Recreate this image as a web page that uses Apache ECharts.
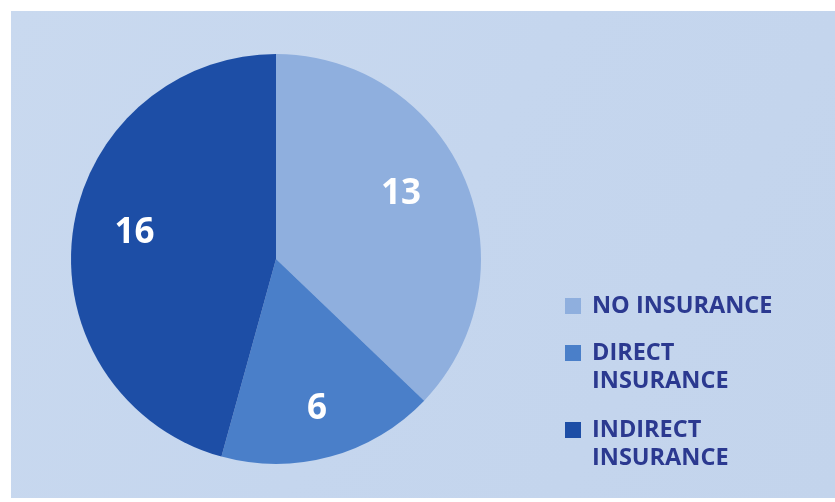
<!DOCTYPE html>
<html>
<head>
<meta charset="utf-8">
<style>
  html, body { margin: 0; padding: 0; background: #ffffff; }
  #chart { width: 835px; height: 502px; }
</style>
<script src="https://cdn.jsdelivr.net/npm/echarts@6/dist/echarts.min.js"></script>
</head>
<body>
<div id="chart"></div>
<script>
// Insurance coverage breakdown
const categories = ['NO INSURANCE', 'DIRECT INSURANCE', 'INDIRECT INSURANCE'];
const counts = [13, 6, 16];
const sliceColors = ['#8fafde', '#4a7fc9', '#1d4ea6'];
// label nudges outward from the default inside position
const labelOffsets = [[28, -24], [13, 48], [-37, -12]];
// legend rows: vertical centre of each marker
const legendTops = [306, 353, 430];

const chart = echarts.init(document.getElementById('chart'), null, { renderer: 'canvas' });

const legendFont = {
  fontFamily: 'Open Sans',
  fontWeight: 'bold',
  fontSize: 23.5,
  color: '#2b3990',
  lineHeight: 28,
  padding: [0, 0, 0, 6]
};

// two-word names wrap onto a second line; a leading blank line keeps
// the first line level with the marker
function wrapName(n) {
  return n === 'NO INSURANCE' ? n : ' \n' + n.replace(' ', '\n');
}

const legends = categories.map((name, i) => {
  const twoLine = name !== 'NO INSURANCE';
  return {
    left: 565,
    top: twoLine ? legendTops[i] - 42 : legendTops[i] - 14,
    orient: 'vertical',
    icon: 'rect',
    itemWidth: 16,
    itemHeight: 16,
    itemGap: 0,
    padding: 0,
    selectedMode: false,
    data: [name],
    formatter: wrapName,
    textStyle: legendFont
  };
});

chart.setOption({
  animation: false,
  color: sliceColors,
  graphic: [{
    type: 'rect',
    z: -10,
    silent: true,
    shape: { x: 11, y: 11, width: 824, height: 487 },
    style: {
      fill: {
        type: 'linear', x: 0, y: 0, x2: 1, y2: 1,
        colorStops: [
          { offset: 0, color: '#c9d9ef' },
          { offset: 0.5, color: '#c5d6ee' },
          { offset: 1, color: '#c3d4ec' }
        ]
      }
    }
  }],
  legend: legends,
  series: [{
    type: 'pie',
    center: [276, 259],
    radius: 205,
    startAngle: 90,
    clockwise: true,
    avoidLabelOverlap: false,
    silent: true,
    itemStyle: { borderWidth: 0 },
    label: {
      show: true,
      position: 'inside',
      formatter: '{c}',
      color: '#ffffff',
      fontFamily: 'Open Sans',
      fontWeight: 'bold',
      fontSize: 35
    },
    labelLine: { show: false },
    data: categories.map((name, i) => ({
      name: name,
      value: counts[i],
      label: { offset: labelOffsets[i] }
    }))
  }]
});
</script>
</body>
</html>
